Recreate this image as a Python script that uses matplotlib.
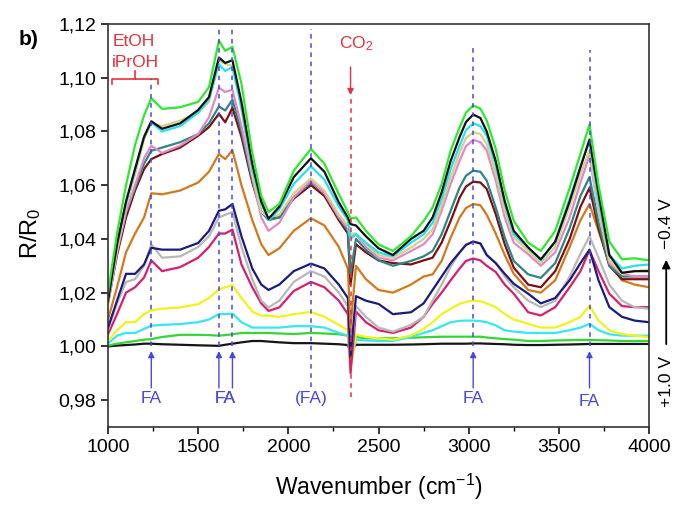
import matplotlib
matplotlib.use('Agg')
import matplotlib.pyplot as plt
from matplotlib.ticker import FuncFormatter, MultipleLocator

plt.rcParams['font.family'] = ['Liberation Sans', 'DejaVu Sans']
plt.rcParams['mathtext.fontset'] = 'custom'
plt.rcParams['mathtext.rm'] = 'Liberation Sans'
plt.rcParams['mathtext.it'] = 'Liberation Sans'

# wavenumber grid (cm-1)
wn = [1000, 1050, 1100, 1150, 1200, 1240, 1300, 1400, 1500, 1560,
      1615, 1650, 1690, 1740, 1800, 1850, 1890, 1950, 2030, 2125,
      2200, 2280, 2330, 2345, 2375, 2430, 2500, 2580, 2680, 2750,
      2800, 2850, 2900, 2950, 2985, 3025, 3065, 3100, 3150, 3200, 3250, 3330,
      3400, 3480, 3560, 3620, 3670, 3720, 3780, 3850, 3920, 4000]

# R/R0 spectra, from -0.4 V (top) to +1.0 V (bottom)
green_top = [1.020, 1.042, 1.060, 1.075, 1.086, 1.0924, 1.0884, 1.089, 1.091, 1.0965,
             1.1138, 1.110, 1.1115, 1.0978, 1.072, 1.056, 1.050, 1.053, 1.0654, 1.0735,
             1.068, 1.0567, 1.050, 1.0475, 1.048, 1.043, 1.038, 1.0355, 1.041, 1.0467,
             1.0517, 1.0604, 1.0729, 1.0816, 1.087, 1.0897, 1.0885, 1.0841, 1.0735, 1.058, 1.0467, 1.0386,
             1.0355, 1.043, 1.059, 1.0717, 1.0826, 1.060, 1.039, 1.0324, 1.0328, 1.032]
black_top = [1.017, 1.038, 1.054, 1.066, 1.078, 1.0838, 1.081, 1.083, 1.088, 1.0928,
             1.1075, 1.1055, 1.1065, 1.091, 1.068, 1.054, 1.0475, 1.052, 1.063, 1.070,
             1.065, 1.0536, 1.048, 1.0455, 1.045, 1.041, 1.0365, 1.034, 1.040, 1.043,
             1.048, 1.0573, 1.069, 1.078, 1.0835, 1.0863, 1.085, 1.080, 1.069, 1.054, 1.043, 1.0368,
             1.0324, 1.039, 1.054, 1.0667, 1.077, 1.057, 1.034, 1.0274, 1.028, 1.028]
cyan_top = [1.017, 1.038, 1.053, 1.066, 1.078, 1.0834, 1.080, 1.082, 1.087, 1.092,
            1.105, 1.1025, 1.104, 1.089, 1.066, 1.053, 1.047, 1.051, 1.0605, 1.067,
            1.062, 1.052, 1.047, 1.0405, 1.0418, 1.0386, 1.035, 1.0336, 1.0386, 1.0417,
            1.046, 1.0548, 1.066, 1.0748, 1.0805, 1.083, 1.082, 1.0785, 1.0673, 1.053, 1.0417, 1.0368,
            1.032, 1.039, 1.055, 1.067, 1.0766, 1.054, 1.034, 1.029, 1.030, 1.0305]
khaki = [1.016, 1.036, 1.052, 1.064, 1.077, 1.083, 1.082, 1.084, 1.087, 1.091,
         1.1065, 1.105, 1.1045, 1.088, 1.064, 1.050, 1.048, 1.049, 1.057, 1.0625,
         1.058, 1.049, 1.045, 1.042, 1.042, 1.038, 1.034, 1.033, 1.0368, 1.040,
         1.0436, 1.0523, 1.0629, 1.0723, 1.0775, 1.0797, 1.079, 1.0754, 1.0642, 1.0505, 1.0405, 1.0355,
         1.031, 1.037, 1.052, 1.064, 1.073, 1.051, 1.032, 1.027, 1.028, 1.0285]
pink = [1.016, 1.035, 1.050, 1.060, 1.070, 1.0747, 1.072, 1.0747, 1.079, 1.0853,
        1.0963, 1.0947, 1.0955, 1.082, 1.063, 1.048, 1.043, 1.046, 1.0555, 1.0617,
        1.057, 1.048, 1.044, 1.040, 1.0417, 1.037, 1.033, 1.032, 1.0355, 1.038,
        1.0417, 1.0505, 1.0604, 1.0692, 1.0745, 1.0769, 1.076, 1.0729, 1.0617, 1.048, 1.0386, 1.0343,
        1.030, 1.035, 1.048, 1.061, 1.071, 1.050, 1.031, 1.027, 1.026, 1.026]
teal = [1.017, 1.036, 1.050, 1.059, 1.068, 1.0728, 1.074, 1.076, 1.079, 1.083,
        1.0893, 1.0878, 1.0918, 1.080, 1.062, 1.050, 1.047, 1.048, 1.0555, 1.061,
        1.057, 1.048, 1.043, 1.027, 1.040, 1.036, 1.032, 1.030, 1.0318, 1.0335,
        1.0355, 1.0417, 1.0505, 1.0592, 1.0635, 1.0654, 1.065, 1.0617, 1.0517, 1.0405, 1.0318, 1.0268,
        1.0255, 1.031, 1.044, 1.056, 1.063, 1.046, 1.030, 1.026, 1.026, 1.026]
darkred = [1.016, 1.034, 1.048, 1.058, 1.066, 1.0697, 1.0716, 1.074, 1.0784, 1.0816,
           1.0866, 1.0834, 1.0888, 1.078, 1.061, 1.050, 1.0475, 1.048, 1.055, 1.060,
           1.056, 1.047, 1.042, 1.023, 1.038, 1.035, 1.032, 1.031, 1.0305, 1.032,
           1.033, 1.0386, 1.0467, 1.0554, 1.0595, 1.0613, 1.061, 1.0586, 1.0492, 1.038, 1.0293, 1.023,
           1.022, 1.028, 1.040, 1.052, 1.059, 1.044, 1.030, 1.025, 1.025, 1.025]
orange = [1.010, 1.022, 1.035, 1.042, 1.048, 1.057, 1.0566, 1.058, 1.061, 1.065,
          1.0716, 1.0697, 1.073, 1.060, 1.047, 1.038, 1.034, 1.0365, 1.043, 1.0477,
          1.045, 1.037, 1.029, 1.007, 1.030, 1.025, 1.021, 1.020, 1.023, 1.026,
          1.0268, 1.0318, 1.0405, 1.048, 1.0515, 1.053, 1.0525, 1.049, 1.042, 1.034, 1.027, 1.021,
          1.020, 1.0246, 1.037, 1.047, 1.053, 1.043, 1.031, 1.0246, 1.023, 1.022]
navy = [1.007, 1.017, 1.027, 1.027, 1.0305, 1.0367, 1.036, 1.036, 1.0385, 1.043,
        1.0505, 1.051, 1.053, 1.041, 1.029, 1.023, 1.021, 1.023, 1.028, 1.0308,
        1.029, 1.023, 1.018, 0.996, 1.0187, 1.017, 1.0158, 1.012, 1.0127, 1.016,
        1.021, 1.026, 1.031, 1.035, 1.0378, 1.039, 1.0383, 1.034, 1.031, 1.027, 1.0233, 1.0196,
        1.016, 1.018, 1.0246, 1.031, 1.036, 1.0246, 1.0146, 1.011, 1.0096, 1.009]
gray = [1.006, 1.016, 1.024, 1.025, 1.030, 1.038, 1.033, 1.0335, 1.037, 1.041,
        1.048, 1.049, 1.050, 1.037, 1.025, 1.017, 1.0145, 1.017, 1.024, 1.028,
        1.026, 1.020, 1.015, 0.997, 1.015, 1.011, 1.007, 1.0055, 1.008, 1.011,
        1.017, 1.023, 1.0296, 1.035, 1.0378, 1.039, 1.0383, 1.034, 1.031, 1.026, 1.022, 1.017,
        1.0146, 1.017, 1.026, 1.0345, 1.041, 1.033, 1.023, 1.017, 1.0146, 1.014]
crimson = [1.0045, 1.012, 1.020, 1.022, 1.0256, 1.032, 1.028, 1.0295, 1.033, 1.037,
           1.042, 1.042, 1.0435, 1.0305, 1.022, 1.016, 1.0132, 1.0145, 1.0206, 1.024,
           1.022, 1.017, 1.012, 0.990, 1.013, 1.009, 1.006, 1.005, 1.007, 1.011,
           1.0158, 1.020, 1.0246, 1.029, 1.0318, 1.0327, 1.032, 1.030, 1.0277, 1.023, 1.0196, 1.0127,
           1.0115, 1.0146, 1.022, 1.028, 1.0358, 1.028, 1.0196, 1.015, 1.0146, 1.0146]
yellow = [1.002, 1.006, 1.009, 1.009, 1.012, 1.0135, 1.014, 1.0145, 1.0157, 1.018,
          1.0212, 1.022, 1.0228, 1.018, 1.013, 1.0114, 1.0114, 1.011, 1.012, 1.0128,
          1.011, 1.008, 1.006, 0.992, 1.0044, 1.0035, 1.003, 1.0025, 1.004, 1.0065,
          1.009, 1.012, 1.014, 1.0158, 1.0166, 1.017, 1.0168, 1.016, 1.0146, 1.012, 1.010, 1.0084,
          1.007, 1.007, 1.009, 1.011, 1.0152, 1.0096, 1.006, 1.0046, 1.004, 1.0034]
cyan_low = [1.001, 1.004, 1.005, 1.005, 1.0065, 1.0077, 1.008, 1.0083, 1.009, 1.010,
            1.012, 1.012, 1.0122, 1.009, 1.007, 1.007, 1.007, 1.007, 1.0075, 1.0075,
            1.007, 1.005, 1.004, 0.994, 1.0025, 1.0022, 1.002, 1.002, 1.0035, 1.005,
            1.006, 1.0075, 1.009, 1.0095, 1.0096, 1.0096, 1.0094, 1.009, 1.0078, 1.006, 1.0055, 1.005,
            1.005, 1.005, 1.006, 1.007, 1.0084, 1.006, 1.0045, 1.004, 1.004, 1.004]
green_low = [1.0003, 1.001, 1.0015, 1.002, 1.0025, 1.0027, 1.0035, 1.0043, 1.0043, 1.0042,
             1.004, 1.0042, 1.0045, 1.005, 1.005, 1.005, 1.005, 1.0048, 1.0046, 1.005,
             1.0048, 1.0045, 1.004, 0.997, 1.0035, 1.003, 1.003, 1.003, 1.0032, 1.0034,
             1.0035, 1.0036, 1.0036, 1.0036, 1.0036, 1.0036, 1.0036, 1.0033, 1.003, 1.0027, 1.0025, 1.002,
             1.002, 1.0022, 1.0023, 1.0024, 1.0024, 1.0023, 1.0022, 1.002, 1.002, 1.002]
black_low = [1.000, 1.0003, 1.0005, 1.0007, 1.001, 1.001, 1.0008, 1.0006, 1.0004, 1.0003,
             1.0002, 1.0006, 1.001, 1.0015, 1.002, 1.002, 1.0018, 1.0015, 1.0012, 1.0012,
             1.001, 1.0008, 1.0005, 0.998, 1.0006, 1.0006, 1.0006, 1.0006, 1.0007, 1.0008,
             1.0009, 1.001, 1.001, 1.001, 1.001, 1.0011, 1.0011, 1.001, 1.0009, 1.0008, 1.0006, 1.0005,
             1.0005, 1.0006, 1.0007, 1.0008, 1.0009, 1.0009, 1.0009, 1.0009, 1.0009, 1.0009]

spectra = [
    (black_low, '#151515'), (green_low, '#33d633'), (cyan_low, '#36e6f5'),
    (yellow, '#f2f21a'), (crimson, '#d81e6e'), (gray, '#b8b8b8'), (navy, '#1a1a80'),
    (orange, '#d4781c'), (darkred, '#7a1010'), (teal, '#2e8585'), (pink, '#e088c8'),
    (khaki, '#d9cf8a'), (cyan_top, '#26e0f0'), (black_top, '#111111'),
    (green_top, '#2ee82e'),
]

fa_pos = [1240, 1615, 1690, 3025, 3670]
fa_top = [1.0995, 1.118, 1.118, 1.112, 1.1105]
fa_labels = ['FA', 'FA', 'FA', 'FA', 'FA']
fa_text_x = [1240, 1650, 1650, 3025, 3670]
fa_text_y = [0.9805, 0.9805, 0.9805, 0.9805, 0.9795]
co2_pos = 2345

blue = '#4848e0'
red = '#e8303a'

fig = plt.figure(figsize=(6.75, 5.05), dpi=100)
ax = fig.add_axes([0.16, 0.1545, 0.8015, 0.798])

for y, c in spectra:
    ax.plot(wn, y, color=c, lw=1.6, solid_joinstyle='round')

# dashed guide lines and FA arrows
for x, t in zip(fa_pos, fa_top):
    ax.plot([x, x], [1.0, t], ls=(0, (3, 3)), color=blue, lw=1.1, zorder=5)
    ax.annotate('', xy=(x, 0.9993), xytext=(x, 0.9835),
                arrowprops=dict(arrowstyle='-|>', color=blue, lw=1.0, mutation_scale=9))
ax.plot([2125, 2125], [0.985, 1.118], ls=(0, (3, 3)), color=blue, lw=1.1, zorder=5)

for x, y, s in zip(fa_text_x, fa_text_y, fa_labels):
    ax.text(x, y, s, color=blue, fontsize=12.5, ha='center', va='center')
ax.text(2125, 0.9805, '(FA)', color=blue, fontsize=12.5, ha='center', va='center')

# CO2 marker
ax.plot([co2_pos, co2_pos], [0.981, 1.092], ls=(0, (3, 3)), color=red, lw=1.1, zorder=5)
ax.annotate('', xy=(co2_pos, 1.0925), xytext=(co2_pos, 1.105),
            arrowprops=dict(arrowstyle='-|>', color=red, lw=1.0, mutation_scale=9))
ax.text(co2_pos + 30, 1.1125, 'CO$_2$', color=red, fontsize=12.5, ha='center', va='center')

# EtOH / iPrOH bracket
ax.text(1145, 1.1135, 'EtOH', color=red, fontsize=12.5, ha='center', va='center')
ax.text(1150, 1.1055, 'iPrOH', color=red, fontsize=12.5, ha='center', va='center')
ax.plot([1020, 1020, 1280, 1280], [1.0975, 1.0995, 1.0995, 1.0975], color=red, lw=1.2)
ax.plot([1150, 1150], [1.0995, 1.1025], color=red, lw=1.2)

ax.set_xlim(1000, 4000)
ax.set_ylim(0.97, 1.12)
ax.xaxis.set_major_locator(MultipleLocator(500))
ax.xaxis.set_minor_locator(MultipleLocator(250))
ax.yaxis.set_major_locator(MultipleLocator(0.02))
ax.yaxis.set_major_formatter(FuncFormatter(lambda v, p: f'{v:.2f}'.replace('.', ',')))
ax.tick_params(axis='both', which='major', labelsize=14, length=5, width=1.1, direction='out')
ax.tick_params(axis='x', which='minor', length=3, width=1.0, direction='out')
for s in ax.spines.values():
    s.set_linewidth(1.2)
    s.set_color('#333333')

ax.set_xlabel('Wavenumber (cm$^{-1}$)', fontsize=16.5, va='top')
ax.xaxis.set_label_coords(0.5, -0.112)
ax.set_ylabel('R/R$_0$', fontsize=17)
ax.yaxis.set_label_coords(-0.12, 0.48)

fig.text(0.042, 0.921, 'b)', fontsize=15, fontweight='bold', ha='center', va='center')

# potential arrow on the right
fig.text(0.987, 0.558, '\u22120.4 V', rotation=90, fontsize=12.5, ha='center', va='center')
fig.text(0.987, 0.2455, '+1.0 V', rotation=90, fontsize=12.5, ha='center', va='center')
ax.annotate('', xy=(0.987, 0.491), xytext=(0.987, 0.313), xycoords='figure fraction',
            textcoords='figure fraction',
            arrowprops=dict(arrowstyle='-|>', color='black', lw=1.3, mutation_scale=12))

fig.savefig('out.png', dpi=100)
